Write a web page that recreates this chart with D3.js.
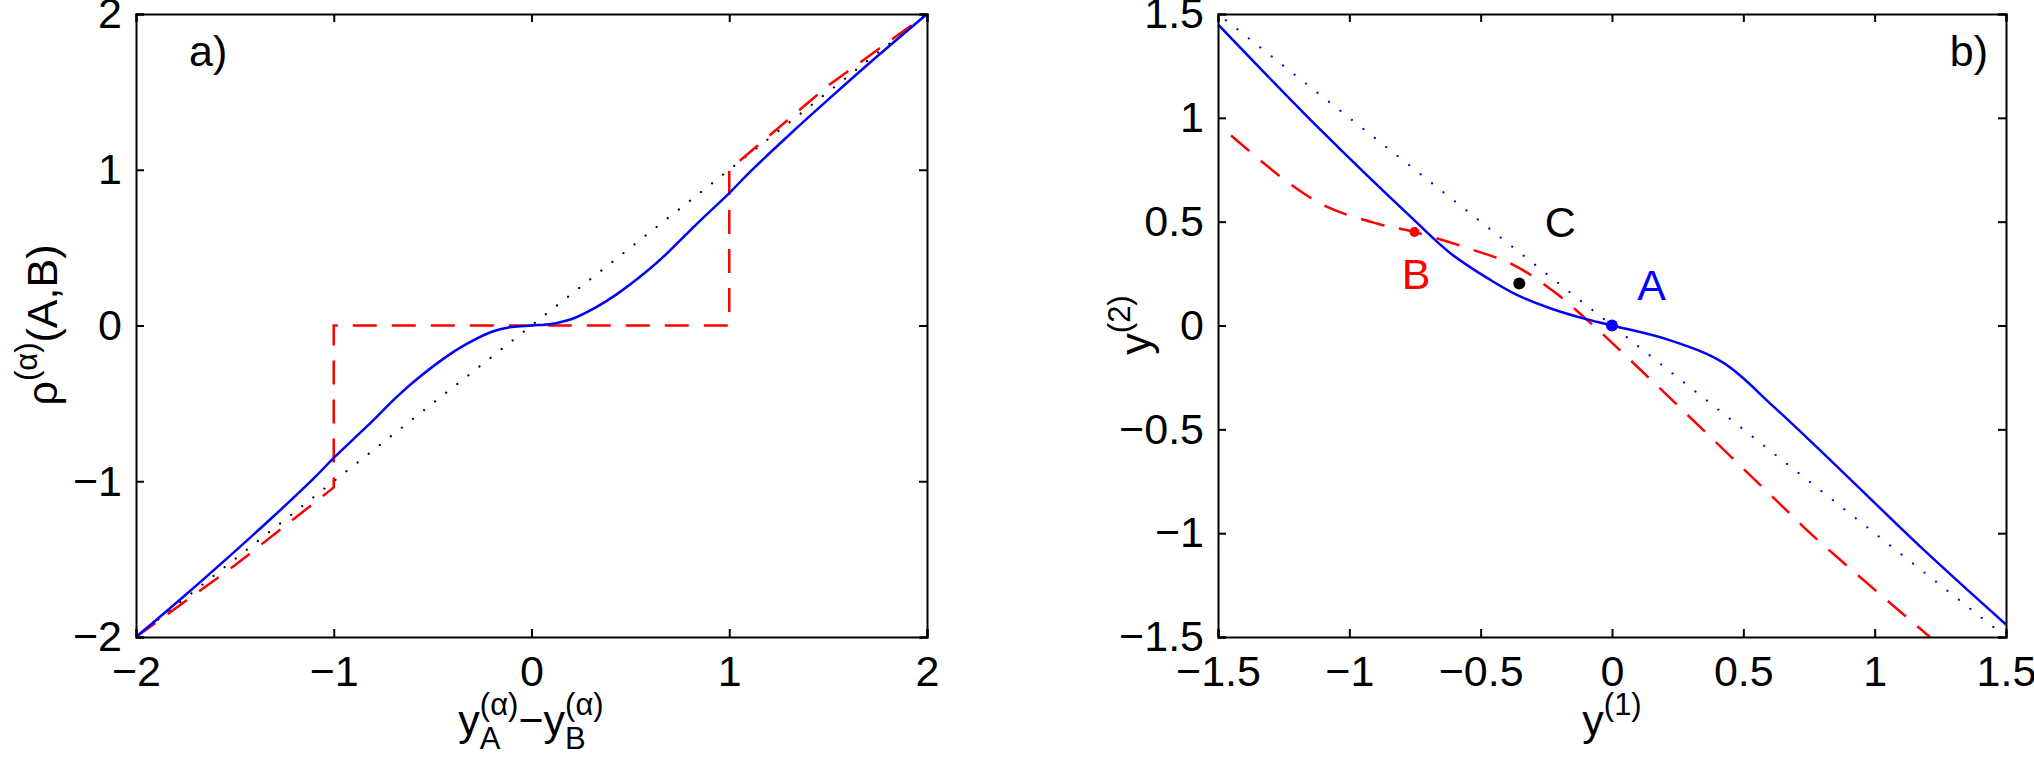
<!DOCTYPE html>
<html><head><meta charset="utf-8">
<script src="https://cdn.jsdelivr.net/npm/d3@7"></script>
<style>body{margin:0;background:#fff}text{font-family:"Liberation Sans",Arial,sans-serif}</style>
</head><body>
<svg id="c" width="2034" height="774"></svg>
<script>
// ---------- data ----------
const aTicksX = [-2, -1, 0, 1, 2];
const aTicksY = [-2, -1, 0, 1, 2];
const bTicks = [-1.5, -1, -0.5, 0, 0.5, 1, 1.5];
const aDiagX = [-2, 2];
const aBlue = [[-2,-2],[-1.75,-1.73],[-1.5,-1.45],[-1.3,-1.22],[-1.1,-0.98],[-1,-0.85],[-0.83,-0.645],[-0.68,-0.457],[-0.58,-0.345],[-0.43,-0.2],[-0.33,-0.12],[-0.2,-0.04],[-0.1,-0.01],[0,0],
  [0.1,0.01],[0.2,0.04],[0.33,0.12],[0.43,0.2],[0.58,0.345],[0.68,0.457],[0.83,0.645],[1,0.85],[1.1,0.98],[1.3,1.22],[1.5,1.45],[1.75,1.73],[2,2]];
const aRed = [[-2,-2],[-1.5,-1.54],[-1,-1.04],[-1,0],[1,0],[1,1.0],[1.5,1.54],[2,2]];
const bBlue = [[-1.5,1.45],[-1.12,0.955],[-0.752,0.506],[-0.613,0.346],[-0.461,0.218],[-0.36,0.146],[-0.233,0.082],[-0.106,0.033],[0,0],[0.21,-0.067],[0.423,-0.179],[0.613,-0.388],[0.841,-0.66],[1.184,-1.077],[1.5,-1.44]];
const bRed = [[-1.45,0.915],[-1.234,0.69],[-1.082,0.57],[-0.892,0.49],[-0.752,0.45],[-0.524,0.362],[-0.372,0.29],[-0.22,0.162],[-0.08,0.01],[0.07,-0.167],[0.64,-0.86],[0.772,-1.02],[1.21,-1.5]];
const bDotted = [[-1.47,1.47],[1.47,-1.47]];
const bPoints = [{n:"A",x:0,y:0,c:"#0000ff",r:6,lx:0.151,ly:0.197},{n:"B",x:-0.752,y:0.45,c:"#ff0000",r:5,lx:-0.746,ly:0.25},{n:"C",x:-0.353,y:0.202,c:"#000",r:6,lx:-0.197,ly:0.5}];

const svg = d3.select("#c");
const FS = 43, SFS = 31;

function panel(id, x0, x1, xd, yd, xt, yt, fmt){
  const x = d3.scaleLinear().domain(xd).range([x0, x1]);
  const y = d3.scaleLinear().domain(yd).range([637, 14]);
  const g = svg.append("g");
  g.append("clipPath").attr("id", id).append("rect").attr("x", x0).attr("y", 14).attr("width", x1-x0).attr("height", 623);
  const plot = g.append("g").attr("clip-path", `url(#${id})`);
  const ax = g.append("g");
  ax.append("g").attr("transform","translate(0,637)").call(d3.axisBottom(x).tickValues(xt).tickSize(-8).tickPadding(18).tickFormat(fmt));
  ax.append("g").attr("transform","translate(0,14)").call(d3.axisTop(x).tickValues(xt).tickSize(-8).tickFormat(""));
  ax.append("g").attr("transform",`translate(${x0},0)`).call(d3.axisLeft(y).tickValues(yt).tickSize(-8).tickPadding(14).tickFormat(fmt));
  ax.append("g").attr("transform",`translate(${x1},0)`).call(d3.axisRight(y).tickValues(yt).tickSize(-8).tickFormat(""));
  ax.selectAll(".domain").attr("stroke","#000").attr("stroke-width",2);
  ax.selectAll(".tick line").attr("stroke","#000").attr("stroke-width",2);
  ax.selectAll(".tick text").attr("font-size",FS).attr("font-family","Liberation Sans, Arial").attr("fill","#000");
  return {x, y, plot, g};
}
const fmt = d => (d < 0 ? "\u2212" + Math.abs(d) : String(d));

// panel a
const A = panel("ca", 136, 927, [-2,2], [-2,2], aTicksX, aTicksY, fmt);
const la = d3.line().x(d=>A.x(d[0])).y(d=>A.y(d[1]));
A.plot.append("path").datum(aDiagX.map(v=>[v,v])).attr("d", la).attr("fill","none").attr("stroke","#000").attr("stroke-width",2.2).attr("stroke-linecap","round").attr("stroke-dasharray","0.1,14");
A.plot.append("path").datum(aRed).attr("d", la).attr("fill","none").attr("stroke","#ff0000").attr("stroke-width",2.5).attr("stroke-dasharray","24,15");
A.plot.append("path").datum(aBlue).attr("d", d3.line().x(d=>A.x(d[0])).y(d=>A.y(d[1])).curve(d3.curveCatmullRom)).attr("fill","none").attr("stroke","#0000ff").attr("stroke-width",2.5);
A.g.append("text").attr("x",189).attr("y",66).attr("font-size",FS).text("a)");

// panel b
const B = panel("cb", 1218, 2006, [-1.5,1.5], [-1.5,1.5], bTicks, bTicks, fmt);
const lb = d3.line().x(d=>B.x(d[0])).y(d=>B.y(d[1]));
B.plot.append("path").datum(bDotted).attr("d", lb).attr("fill","none").attr("stroke","#0000ff").attr("stroke-width",2.2).attr("stroke-linecap","round").attr("stroke-dasharray","0.1,14.5");
B.plot.append("path").datum(bRed).attr("d", d3.line().x(d=>B.x(d[0])).y(d=>B.y(d[1])).curve(d3.curveCatmullRom)).attr("fill","none").attr("stroke","#ff0000").attr("stroke-width",2.5).attr("stroke-dasharray","24,15");
B.plot.append("path").datum(bBlue).attr("d", d3.line().x(d=>B.x(d[0])).y(d=>B.y(d[1])).curve(d3.curveCatmullRom)).attr("fill","none").attr("stroke","#0000ff").attr("stroke-width",2.5);
B.plot.selectAll("circle").data(bPoints).join("circle").attr("cx",d=>B.x(d.x)).attr("cy",d=>B.y(d.y)).attr("r",d=>d.r).attr("fill",d=>d.c);
B.g.selectAll("text.lab").data(bPoints).join("text").attr("class","lab").attr("x",d=>B.x(d.lx)).attr("y",d=>B.y(d.ly)).attr("dy","0.36em").attr("text-anchor","middle").attr("font-size",FS).attr("fill",d=>d.c).text(d=>d.n);
B.g.append("text").attr("x",1988).attr("y",66).attr("text-anchor","end").attr("font-size",FS).text("b)");

// composite labels: pieces [base, sup, sub]
function label(parts, cx, cy, rotate){
  const g = svg.append("g");
  let xpos = 0;
  parts.forEach(p=>{
    const t = g.append("text").attr("x",xpos).attr("y",0).attr("font-size",FS).text(p[0]);
    xpos += t.node().getComputedTextLength();
    let w = 0;
    if (p[1]) { const s = g.append("text").attr("x",xpos).attr("y",-20).attr("font-size",SFS).text(p[1]); w = Math.max(w, s.node().getComputedTextLength()); }
    if (p[2]) { const s = g.append("text").attr("x",xpos).attr("y",14).attr("font-size",SFS).text(p[2]); w = Math.max(w, s.node().getComputedTextLength()); }
    xpos += w;
  });
  g.attr("transform", rotate ? `translate(${cx},${cy}) rotate(-90) translate(${-xpos/2},0)` : `translate(${cx - xpos/2},${cy})`);
}
label([["y","(\u03b1)","A"],["\u2212",null,null],["y","(\u03b1)","B"]], 531, 735, false);
label([["y","(1)",null]], 1612, 735, false);
label([["\u03c1","(\u03b1)",null],["(A,B)",null,null]], 57, 325, true);
label([["y","(2)",null]], 1150, 325, true);
</script>
</body></html>
